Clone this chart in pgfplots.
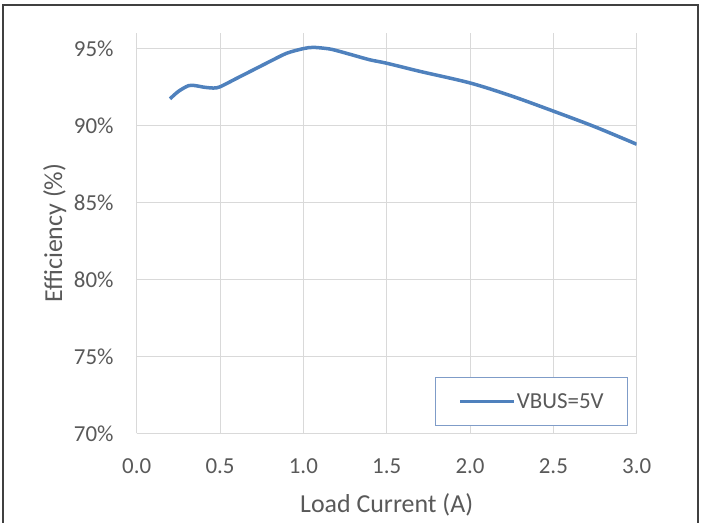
\documentclass[border=0pt]{standalone}
\usepackage{pgfplots}
\pgfplotsset{compat=1.18}
\usepackage{fontspec}
\setmainfont{Carlito}
\definecolor{txtgray}{HTML}{595959}
\definecolor{gridgray}{HTML}{D9D9D9}
\definecolor{serblue}{HTML}{4F81BD}
\definecolor{legborder}{HTML}{7F9CC8}
\begin{document}
\begin{tikzpicture}
\useasboundingbox (0,0) rectangle (702bp,523bp);
\draw[line width=1.6bp, color=black!75] (3bp,-10bp) -- (3bp,518bp) -- (698bp,518bp) -- (698bp,-10bp);
\begin{axis}[
  at={(136.7bp,89.7bp)}, anchor=south west,
  scale only axis, width=500bp, height=400.4bp,
  xmin=0, xmax=3, ymin=70, ymax=96,
  xtick={0,0.5,...,3.0},
  ytick={70,75,80,85,90,95},
  xticklabels={0.0,0.5,1.0,1.5,2.0,2.5,3.0},
  yticklabels={70\%,75\%,80\%,85\%,90\%,95\%},
  axis x line=bottom, axis y line=left,
  axis line style={gridgray, line width=1bp, -},
  major tick length=0pt,
  grid=major, major grid style={gridgray, line width=1bp},
  tick label style={font=\fontsize{23}{27}\selectfont, color=txtgray, inner sep=0pt},
  /pgf/number format/assume math mode=true,
  yticklabel shift=23bp,
  xticklabel shift=25bp,
  xlabel={Load Current (A)},
  ylabel={Efficiency (\%)},
  label style={font=\fontsize{26}{30}\selectfont, color=txtgray},
  xlabel style={at={(axis description cs:0.5,-0.199)}, anchor=base, inner sep=0pt},
  ylabel style={at={(axis description cs:-0.1494,0.5)}, anchor=base, inner sep=0pt},
  legend style={at={(axis description cs:0.983,0.018)}, anchor=south east,
    draw=legborder, line width=1bp, fill=white,
    font=\fontsize{23}{27}\selectfont, text=txtgray,
    nodes={inner sep=1bp},
    inner xsep=23bp, inner ysep=15bp},
  legend image code/.code={\draw[#1, line width=3.5bp] (0bp,0bp) -- (54bp,0bp);},
  legend cell align=left,
]
\addplot[serblue, line width=3.5bp, smooth, tension=0.5] coordinates {
(0.2,91.72) (0.25,92.2) (0.31,92.57) (0.35,92.58) (0.4,92.48) (0.46,92.42)
(0.5,92.5) (0.6,93.05) (0.7,93.6) (0.8,94.15) (0.9,94.68) (1.0,94.98)
(1.06,95.06) (1.15,94.97) (1.2,94.85) (1.3,94.55) (1.4,94.25) (1.5,94.03)
(1.7,93.5) (2.0,92.75) (2.25,91.9) (2.5,90.92) (2.75,89.9) (3.0,88.77)
};
\addlegendentry{VBUS=5V}
\end{axis}
\end{tikzpicture}
\end{document}
